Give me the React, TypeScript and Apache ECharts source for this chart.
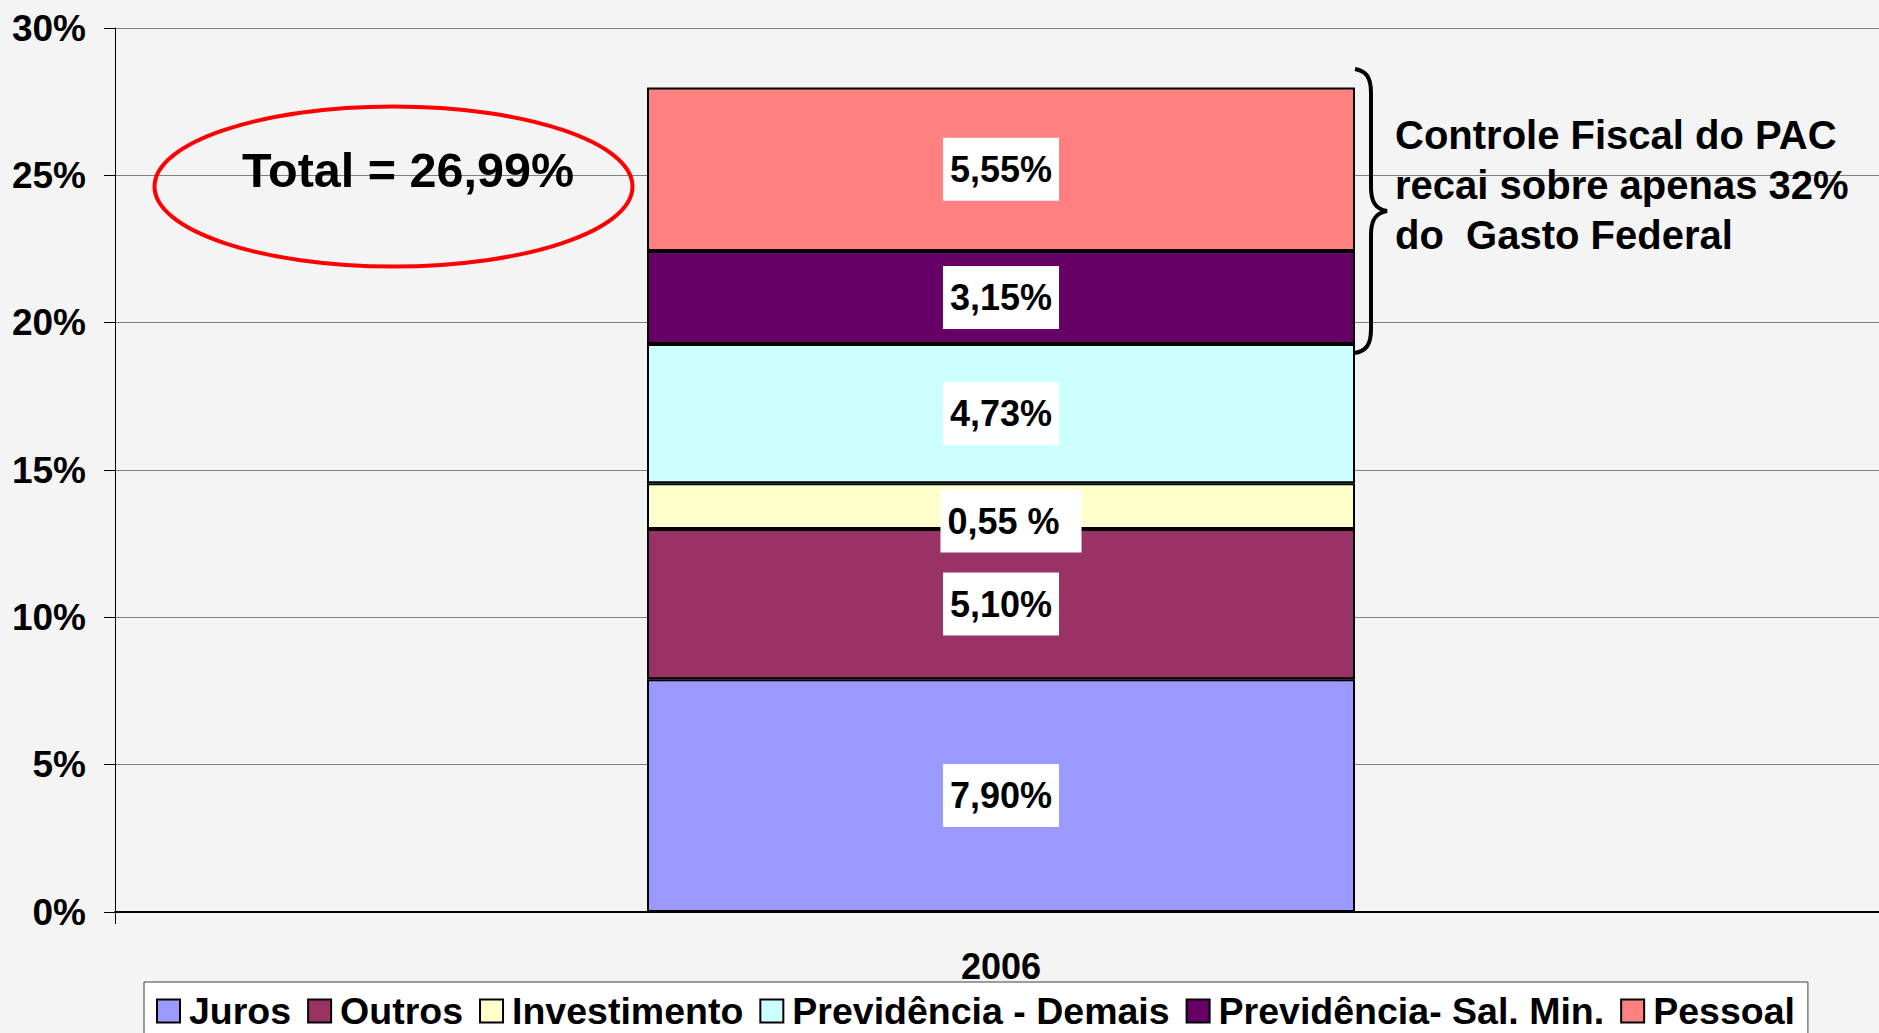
import React, { useEffect, useRef } from "react";
import * as echarts from "echarts";

const categories = ["2006"];
const seriesNames = [
  "Juros",
  "Outros",
  "Investimento",
  "Previdência - Demais",
  "Previdência- Sal. Min.",
  "Pessoal",
];
// segment heights as drawn (the Investimento block is drawn ~1.55 tall although labelled 0,55 %)
const seriesValues = [7.9, 5.1, 1.55, 4.73, 3.15, 5.55];
const seriesLabels = ["7,90%", "5,10%", "0,55 %", "4,73%", "3,15%", "5,55%"];
const seriesColors = ["#9999FF", "#993366", "#FFFFCC", "#CCFFFF", "#660066", "#FF8080"];
const yTicks = { min: 0, max: 30, interval: 5 };
const totalText = "Total = 26,99%";
const noteText = "Controle Fiscal do PAC\nrecai sobre apenas 32%\ndo  Gasto Federal";

const FONT = "'Liberation Sans', Arial, sans-serif";

const bracePath =
  "M0,0 C11,2 16,8 16,24 L16,118 C16,132 20,140 32,142 C20,144 16,152 16,166 L16,260 C16,276 11,282 0,284";

let braceRegistered = false;

export default function App() {
  const ref = useRef<HTMLDivElement>(null);

  useEffect(() => {
    document.body.style.margin = "0";
    if (!braceRegistered) {
      echarts.graphic.registerShape("brace", echarts.graphic.extendPath(bracePath, {}));
      braceRegistered = true;
    }
    const chart = echarts.init(ref.current!, null, { renderer: "svg" });

    const series = seriesNames.map((name, i) => ({
      name,
      type: "bar",
      stack: "total",
      barWidth: 708,
      data: [seriesValues[i]],
      itemStyle: { color: seriesColors[i], borderColor: "#000", borderWidth: 2 },
      label: {
        show: true,
        position: "inside",
        formatter: () => seriesLabels[i],
        color: "#000",
        fontFamily: FONT,
        fontWeight: "bold",
        fontSize: 36,
        backgroundColor: "#FFFFFF",
        padding: i === 2 ? [14, 22, 13, 7] : [14, 7, 13, 7],
        offset: i === 2 ? [10, 15] : [0, 0],
      },
      emphasis: { disabled: true },
    }));

    chart.setOption({
      animation: false,
      backgroundColor: "#F4F4F4",
      textStyle: { fontFamily: FONT },
      grid: {
        left: 115,
        top: 28,
        width: 1772,
        bottom: 121,
        outerBoundsMode: "none",
        containLabel: false,
      },
      xAxis: {
        type: "category",
        data: categories,
        axisLine: { show: true, lineStyle: { color: "#000", width: 2 } },
        axisTick: { show: true, length: 12, lineStyle: { color: "#000" } },
        axisLabel: {
          color: "#000",
          fontFamily: FONT,
          fontWeight: "bold",
          fontSize: 36,
          margin: 36,
        },
      },
      yAxis: {
        type: "value",
        min: yTicks.min,
        max: yTicks.max,
        interval: yTicks.interval,
        axisLine: { show: true, lineStyle: { color: "#000", width: 1 } },
        axisTick: { show: true, length: 11, lineStyle: { color: "#000" } },
        axisLabel: {
          formatter: "{value}%",
          color: "#000",
          fontFamily: FONT,
          fontWeight: "bold",
          fontSize: 37,
          margin: 29,
        },
        splitLine: { show: true, lineStyle: { color: "#808080", width: 1 } },
      },
      legend: {
        data: seriesNames,
        left: 144,
        top: 982,
        orient: "horizontal",
        backgroundColor: "#FFFFFF",
        borderColor: "#404040",
        borderWidth: 1,
        padding: [10, 13, 8, 12],
        itemGap: 16,
        itemWidth: 23,
        itemHeight: 23,
        icon: "rect",
        itemStyle: { borderColor: "#000", borderWidth: 2 },
        textStyle: {
          color: "#000",
          fontFamily: FONT,
          fontWeight: "bold",
          fontSize: 37.5,
          lineHeight: 28,
          padding: [0, 0, 0, 4],
        },
        selectedMode: false,
      },
      graphic: [
        {
          type: "ellipse",
          shape: { cx: 393.5, cy: 186.5, rx: 239, ry: 80 },
          style: { fill: "none", stroke: "#FF0000", lineWidth: 4 },
          z: 10,
        },
        {
          type: "text",
          x: 408,
          y: 170,
          style: {
            text: totalText,
            fill: "#000",
            font: `bold 48.5px ${FONT}`,
            textAlign: "center",
            textVerticalAlign: "middle",
          },
          z: 11,
        },
        {
          type: "brace",
          x: 1355,
          y: 69,
          style: { fill: "none", stroke: "#000", lineWidth: 4 },
          z: 10,
        },
        {
          type: "text",
          x: 1395,
          y: 185,
          style: {
            text: noteText,
            fill: "#000",
            font: `bold 40px ${FONT}`,
            lineHeight: 50,
            textAlign: "left",
            textVerticalAlign: "middle",
          },
          z: 11,
        },
      ],
      series,
    });

    return () => chart.dispose();
  }, []);

  return (
    <div
      ref={ref}
      style={{ position: "fixed", left: 0, top: 0, width: 1879, height: 1033 }}
    />
  );
}
